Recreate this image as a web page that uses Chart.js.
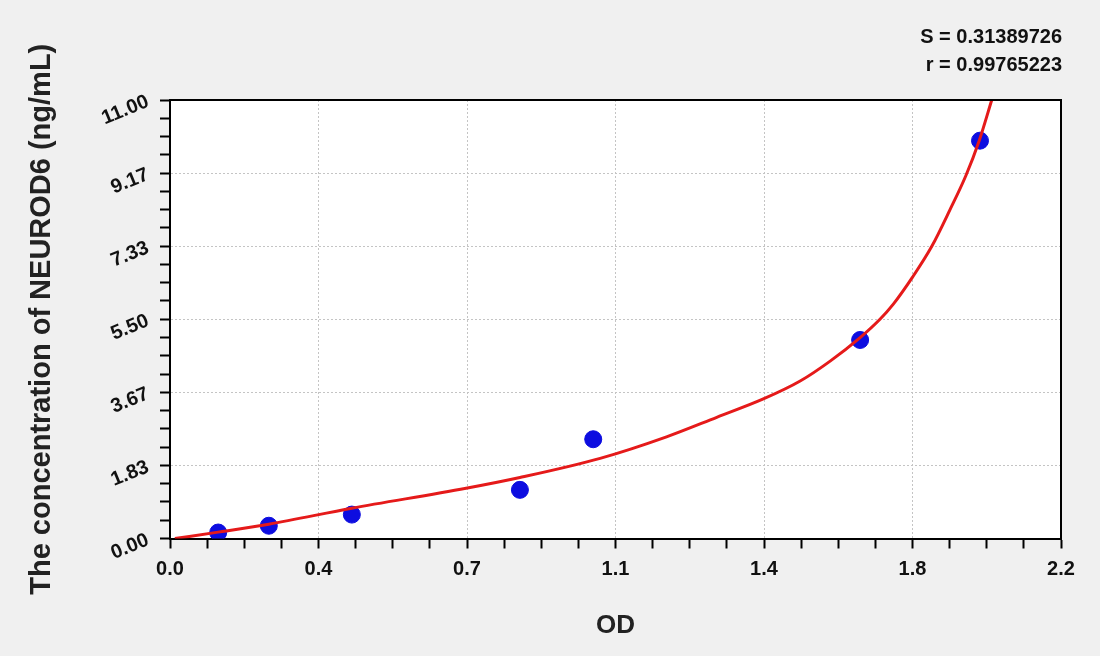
<!DOCTYPE html>
<html>
<head>
  <title>NEUROD6 standard curve</title>
  <meta charset="utf-8">
  <script src="https://cdn.jsdelivr.net/npm/chart.js@4.4.1/dist/chart.umd.min.js"></script>
  <style>
    html, body { margin: 0; padding: 0; background: #f0f0f0; }
  </style>
</head>
<body>
<canvas id="myChart" width="1100" height="656"></canvas>
<script>
  // standards (OD vs concentration)
  var odValues = [0.119, 0.244, 0.449, 0.864, 1.045, 1.704, 2.000];
  var concValues = [0.15, 0.32, 0.60, 1.22, 2.49, 4.98, 9.98];

  // fitted curve
  var curveOd = [0.012, 0.119, 0.244, 0.449, 0.731, 0.864, 1.062, 1.226, 1.350, 1.465, 1.556, 1.630, 1.704, 1.753, 1.786, 1.833, 1.881, 1.926, 1.965, 1.998, 2.029];
  var curveConc = [0.00, 0.16, 0.36, 0.76, 1.26, 1.53, 2.01, 2.55, 3.04, 3.50, 3.95, 4.45, 5.04, 5.50, 5.88, 6.55, 7.33, 8.25, 9.10, 9.98, 11.00];

  var xTickLabels = ['0.0', '0.4', '0.7', '1.1', '1.4', '1.8', '2.2'];
  var yTickLabels = ['0.00', '1.83', '3.67', '5.50', '7.33', '9.17', '11.00'];
  var statLines = ['S = 0.31389726', 'r = 0.99765223'];

  var xMax = 2.2, yMax = 11;
  var minorPerMajor = 4;
  var family = '"Liberation Sans", Arial, sans-serif';

  function minorTicks(max, count) {
    var t = [];
    for (var i = 0; i <= count; i++) t.push({ value: max * i / count });
    return t;
  }

  var gridColor = function(ctx) {
    return ctx.index % minorPerMajor === 0 ? '#c4c4c4' : 'rgba(0,0,0,0)';
  };

  var decor = {
    id: 'decor',
    beforeDraw: function(chart) {
      var c = chart.ctx, a = chart.chartArea;
      c.save();
      c.fillStyle = '#f0f0f0';
      c.fillRect(0, 0, chart.width, chart.height);
      c.fillStyle = '#ffffff';
      c.fillRect(a.left, a.top, a.right - a.left, a.bottom - a.top);
      c.restore();
    },
    afterDraw: function(chart) {
      var c = chart.ctx, a = chart.chartArea;
      var ys = chart.scales.y;
      c.save();
      // top and right frame
      c.strokeStyle = '#000';
      c.lineWidth = 2;
      c.beginPath();
      c.moveTo(a.left, a.top);
      c.lineTo(a.right, a.top);
      c.lineTo(a.right, a.bottom);
      c.stroke();

      // slanted y tick labels
      c.fillStyle = '#111';
      c.font = 'bold 20px ' + family;
      c.textAlign = 'right';
      c.textBaseline = 'middle';
      for (var i = 0; i < yTickLabels.length; i++) {
        var py = ys.getPixelForValue(yMax * i / (yTickLabels.length - 1));
        c.save();
        c.translate(a.left - 22, py + 1);
        c.rotate(-22 * Math.PI / 180);
        c.fillText(yTickLabels[i], 0, 0);
        c.restore();
      }

      // fit statistics
      c.font = 'bold 20px ' + family;
      c.textBaseline = 'alphabetic';
      c.fillText(statLines[0], a.right + 1, 43);
      c.fillText(statLines[1], a.right + 1, 71);
      c.restore();
    }
  };

  var ctx = document.getElementById('myChart').getContext('2d');
  var chart = new Chart(ctx, {
    data: {
      datasets: [{
        type: 'line',
        label: 'fit',
        data: curveOd.map(function(x, i) { return { x: x, y: curveConc[i] }; }),
        borderColor: '#e51a1a',
        borderWidth: 3,
        pointRadius: 0,
        cubicInterpolationMode: 'monotone',
        fill: false,
        order: 0
      }, {
        type: 'scatter',
        label: 'standards',
        data: odValues.map(function(x, i) { return { x: x, y: concValues[i] }; }),
        backgroundColor: '#0d0de0',
        borderColor: '#0d0de0',
        pointRadius: 8.5,
        order: 1
      }]
    },
    options: {
      responsive: false,
      animation: false,
      layout: { padding: { top: 100, right: 39, left: 0, bottom: 0 } },
      plugins: {
        legend: { display: false },
        tooltip: { enabled: false }
      },
      scales: {
        x: {
          type: 'linear',
          min: 0,
          max: xMax,
          afterBuildTicks: function(scale) {
            scale.ticks = minorTicks(xMax, (xTickLabels.length - 1) * minorPerMajor);
          },
          afterFit: function(scale) { scale.height = 117.5; },
          ticks: {
            autoSkip: false,
            maxRotation: 0,
            padding: 9,
            color: '#111',
            font: { family: family, size: 20, weight: 'bold' },
            callback: function(value, index) {
              return index % minorPerMajor === 0 ? xTickLabels[index / minorPerMajor] : '';
            }
          },
          grid: {
            color: gridColor,
            lineWidth: 1,
            tickColor: '#000',
            tickLength: 10,
            tickWidth: 2
          },
          border: { color: '#000', width: 2, dash: [2, 2] },
          title: {
            display: true,
            text: 'OD',
            color: '#222',
            font: { family: family, size: 26, weight: 'bold' },
            padding: { top: 0, bottom: 15 }
          }
        },
        y: {
          type: 'linear',
          min: 0,
          max: yMax,
          afterBuildTicks: function(scale) {
            scale.ticks = minorTicks(yMax, (yTickLabels.length - 1) * minorPerMajor);
          },
          afterFit: function(scale) { scale.width = 170; },
          ticks: { display: false },
          grid: {
            color: gridColor,
            lineWidth: 1,
            tickColor: '#000',
            tickLength: 10,
            tickWidth: 2
          },
          border: { color: '#000', width: 2, dash: [2, 2] },
          title: {
            display: true,
            text: 'The concentration of NEUROD6 (ng/mL)',
            color: '#222',
            font: { family: family, size: 29, weight: 'bold' },
            padding: { top: 25, bottom: 0 }
          }
        }
      }
    },
    plugins: [decor]
  });
</script>
</body>
</html>
